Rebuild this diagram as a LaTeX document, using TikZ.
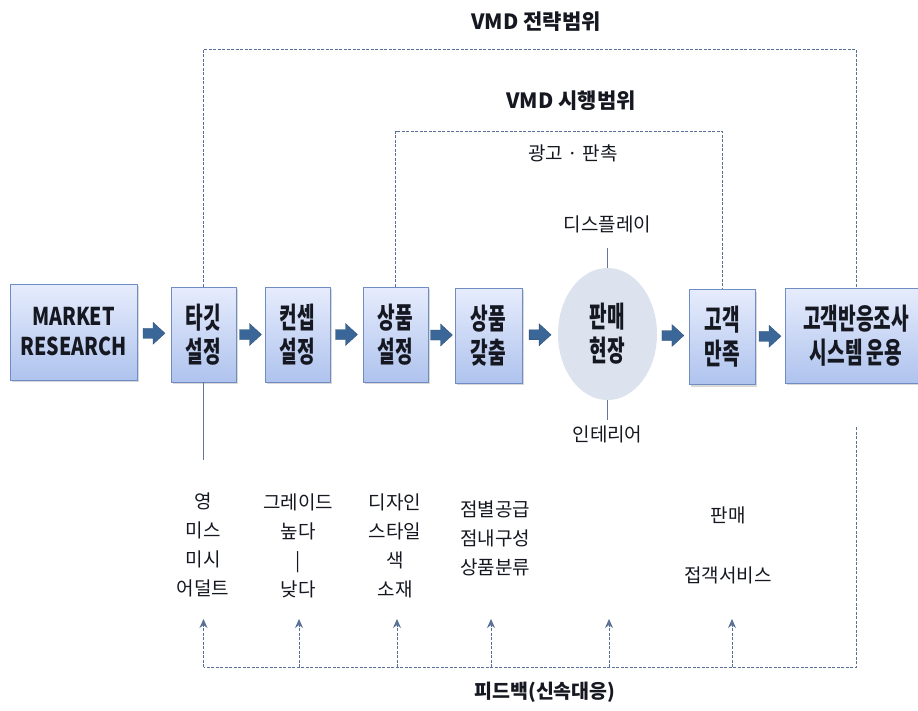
\documentclass[tikz,border=0pt]{standalone}
\usepackage{fontspec}
\setmainfont{Noto Sans CJK KR}
\newfontfamily\tallfont[FakeStretch=0.66]{Noto Sans CJK KR}
\newfontfamily\mrfont[FakeStretch=0.8]{Noto Sans CJK KR}
\usetikzlibrary{shapes.geometric,shadows,arrows.meta}
\definecolor{boxtop}{HTML}{E6ECFC}
\definecolor{boxbot}{HTML}{AFC3EE}
\definecolor{boxline}{HTML}{6F8DC2}
\definecolor{arrowc}{HTML}{3B6798}
\definecolor{dashc}{HTML}{5A7197}
\definecolor{ellc}{HTML}{DCE3EE}
\definecolor{txtc}{HTML}{151820}
\definecolor{slinec}{HTML}{62779B}
\begin{document}
\begin{tikzpicture}[x=1pt,y=-1pt,
  procbox/.style={draw=boxline, line width=0.8pt, top color=boxtop, bottom color=boxbot,
    drop shadow={opacity=0.3,shadow xshift=1.5pt,shadow yshift=-2pt},
    align=center, inner sep=0pt, text=txtc,
    font=\tallfont\bfseries\fontsize{29}{34}\selectfont},
  smallbox/.style={procbox, minimum width=65pt, minimum height=95pt},
  flowarrow/.pic={\fill[arrowc, draw=arrowc!75!black, line width=0.3pt]
    (-11,-5) -- (-1,-5) -- (-1,-11) -- (11,0) -- (-1,11) -- (-1,5) -- (-11,5) -- cycle;},
  vdash/.style={draw=dashc, line width=0.8pt, dash pattern=on 3pt off 1.5pt},
  sline/.style={draw=slinec, line width=0.8pt},
  fbarrow/.style={vdash, -{Stealth[length=9pt,width=8pt,inset=3pt]}},
  ttl/.style={font=\bfseries\fontsize{21}{24}\selectfont, text=txtc, inner sep=0pt},
  lbl/.style={font=\fontsize{19}{29}\selectfont, text=txtc, align=center, inner sep=0pt},
]
\clip (0,0) rectangle (918,710);
\fill[white] (0,0) rectangle (918,710);

% process boxes
\node[procbox, minimum width=127pt, minimum height=96pt,
  font=\mrfont\bfseries\fontsize{24.5}{30}\selectfont] (mr) at (73.5,332) {MARKET\\RESEARCH};
\node[smallbox] (tg) at (203.5,334.5) {타깃\\설정};
\node[smallbox] (cs) at (297.5,334.5) {컨셉\\설정};
\node[smallbox] (ps) at (395.5,334.5) {상품\\설정};
\node[smallbox, minimum width=67pt] (pg) at (488.5,335.5) {상품\\갖춤};
\node[ellipse, fill=ellc, minimum width=99pt, minimum height=132pt, inner sep=0pt,
  align=center, text=txtc, font=\tallfont\bfseries\fontsize{29}{34}\selectfont]
  (el) at (607.5,334) {판매\\현장};
\node[smallbox, minimum width=66pt] (cu) at (722,337) {고객\\만족};
\node[procbox, minimum width=142pt, minimum height=95pt] (crm) at (856,335.5) {고객반응조사\\시스템 운용};

% flow arrows
\path (mr.east) -- coordinate[midway] (a1) (tg.west);
\path (tg.east) -- coordinate[midway] (a2) (cs.west);
\path (cs.east) -- coordinate[midway] (a3) (ps.west);
\path (ps.east) -- coordinate[midway] (a4) (pg.west);
\path (pg.east) -- coordinate[midway] (a5) (el.west);
\path (el.east) -- coordinate[midway] (a6) (cu.west);
\path (cu.east) -- coordinate[midway] (a7) (crm.west);
\foreach \i in {1,...,7}{\pic at (a\i) {flowarrow};}

% titles
\node[ttl] (t1) at (536,22) {VMD 전략범위};
\node[ttl] (t2) at (571,101) {VMD 시행범위};
\node[lbl] (ad) at (573,153) {광고 · 판촉};

% scope lines
\coordinate (top1) at (0,49);
\coordinate (top2) at (0,131);
\draw[vdash] (tg.north) -- (tg.north |- top1) -- (crm.north |- top1) -- (crm.north);
\draw[vdash] (ps.north) -- (ps.north |- top2) -- (cu.north |- top2) -- (cu.north);

% display / interior
\node[lbl] (disp) at (607.5,224) {디스플레이};
\node[lbl] (intr) at (607.5,434) {인테리어};
\coordinate (dispEnd) at (607.5,248);
\coordinate (intrEnd) at (607.5,420);
\draw[sline] (dispEnd) -- (el.north);
\draw[sline] (el.south) -- (intrEnd);

% target line
\coordinate (tgEnd) at (203.5,460);
\draw[sline] (tg.south) -- (tgEnd);

% bottom labels
\node[lbl] (c1) at (203,545) {영\\미스\\미시\\어덜트};
\node[lbl] (c2) at (298,546) {그레이드\\높다\\|\\낮다};
\node[lbl] (c3) at (395,546) {디자인\\스타일\\색\\소재};
\node[lbl] (c4) at (495,538) {점별공급\\점내구성\\상품분류};
\node[lbl] (c5) at (728,515) {판매};
\node[lbl] (c6) at (728,575) {접객서비스};

% feedback
\coordinate (fbL) at (203.5,667);
\coordinate (fbR) at (856,667);
\coordinate (crmEnd) at (856,427);
\draw[vdash] (crmEnd) -- (fbR) -- (fbL);
\foreach \i/\x in {1/203.5,2/299,3/397,4/491,5/609,6/732}{
  \coordinate (fb\i) at (\x,667);
  \coordinate (fa\i) at (\x,619);
  \draw[fbarrow] (fb\i) -- (fa\i);
}
\node[ttl, font=\bfseries\fontsize{19.5}{22}\selectfont] (fb) at (545,692) {피드백(신속대응)};
\end{tikzpicture}
\end{document}
